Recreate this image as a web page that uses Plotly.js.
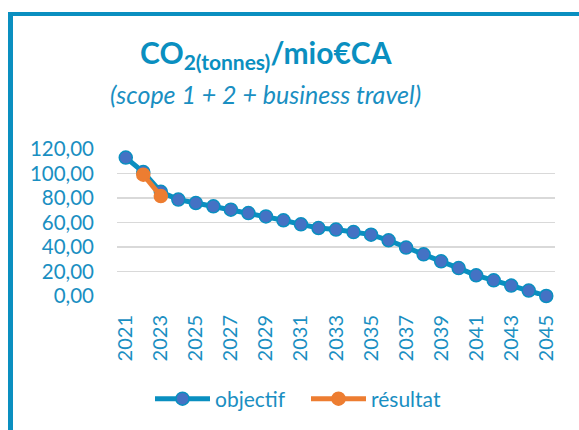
<!DOCTYPE html>
<html><head><meta charset="utf-8">
<script src="https://cdn.plot.ly/plotly-3.0.1.min.js"></script>
<style>
html,body{margin:0;padding:0;background:#fff;}
#wrap{position:relative;width:579px;height:430px;overflow:hidden;}
#frame{position:absolute;left:8px;top:12px;width:600px;height:440px;border-left:5px solid #0a8fc0;border-top:4px solid #0a8fc0;box-sizing:border-box;pointer-events:none;z-index:5;}
#chart{position:absolute;left:0;top:0;width:579px;height:430px;}
</style></head>
<body><div id="wrap"><div id="chart"></div><div id="frame"></div></div>
<script>
const years = [2021,2022,2023,2024,2025,2026,2027,2028,2029,2030,2031,2032,2033,2034,2035,2036,2037,2038,2039,2040,2041,2042,2043,2044,2045];
const objectif = [113,101.2,85,78.7,75.9,73.2,70.5,67.7,65,61.8,58.5,55.5,54.2,52.2,50.1,45.5,39.5,34,28.3,22.8,16.9,12.8,8.5,4.4,0];
const resultatYears = [2022,2023];
const resultat = [99,81.6];
const tickYears = [2021,2023,2025,2027,2029,2031,2033,2035,2037,2039,2041,2043,2045];

const txt = '#1a8fc2';
const font = 'Lato, "Open Sans", sans-serif';
const L = 117, R = 23.5, T = 149, B = 134, W = 579, H = 430;
const pw = W - L - R, ph = H - T - B;
const px = x => (x - L) / pw;
const py = y => (H - B - y) / ph;
const traces = [
 {x:years,y:objectif,name:'objectif',type:'scatter',mode:'lines+markers',
  line:{color:'#0a8fc0',width:5},
  marker:{color:'#4472c4',size:13,line:{color:'#0a8fc0',width:1.5}},cliponaxis:false},
 {x:resultatYears,y:resultat,name:'résultat',type:'scatter',mode:'lines+markers',
  line:{color:'#ed7d31',width:5},
  marker:{color:'#ed7d31',size:13,line:{color:'#ed7d31',width:1.5}},cliponaxis:false}
];
const layout = {
 width:W,height:H,
 margin:{l:L,r:R,t:T,b:B},
 paper_bgcolor:'#fff',plot_bgcolor:'#fff',
 separators:', ',
 font:{family:font,color:txt,size:20},
 showlegend:true,
 legend:{orientation:'h',x:150/W,xanchor:'left',xref:'container',y:(H-399)/H,yref:'container',yanchor:'middle',
   font:{size:21,color:txt},itemwidth:55,entrywidth:86,entrywidthmode:'pixels',traceorder:'normal',tracegroupgap:0,bgcolor:'rgba(0,0,0,0)'},
 xaxis:{range:[2020.5,2045.5],tickvals:tickYears,ticktext:tickYears.map(String),tickangle:-90,
   showgrid:false,zeroline:false,showline:false,ticks:'',ticklabelstandoff:14,tickfont:{size:20,color:txt}},
 yaxis:{range:[0,120],dtick:20,tickformat:'.2f',showgrid:true,gridcolor:'#d9d9d9',gridwidth:1.5,
   zeroline:false,showline:false,ticks:'',ticklen:0,ticklabelstandoff:22,tickfont:{size:20.5,color:txt}},
 annotations:[
  {text:'<b>CO<sub>2(tonnes)</sub>/mio€CA</b>',xref:'paper',yref:'paper',x:px(266),y:py(54),
   xanchor:'center',yanchor:'middle',showarrow:false,
   font:{size:30,color:'#0a8fc0',family:font}},
  {text:'<i>(scope 1 + 2 + business travel)</i>',xref:'paper',yref:'paper',x:px(266),y:py(94),
   xanchor:'center',yanchor:'middle',showarrow:false,font:{size:25,color:txt,family:font}}
 ]
};
Plotly.newPlot('chart',traces,layout,{staticPlot:true,displayModeBar:false});
</script></body></html>
